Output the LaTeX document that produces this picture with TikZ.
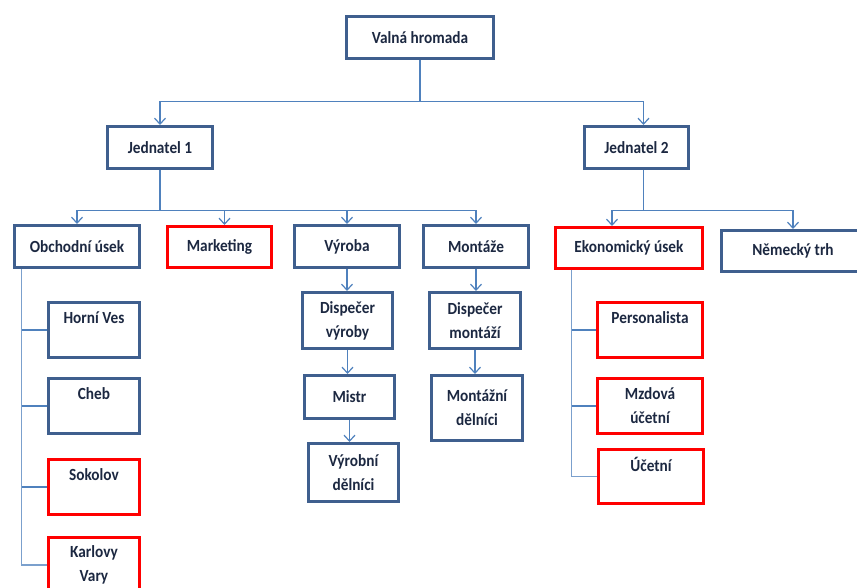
\documentclass[tikz,border=0pt]{standalone}
\usepackage{fontspec}
\setmainfont{Carlito}[FakeStretch=0.9]
\usepackage{xcolor}
\usetikzlibrary{arrows.meta}
\definecolor{boxblue}{HTML}{3F5F8E}
\definecolor{linkblue}{HTML}{4F81BD}
\definecolor{textnavy}{HTML}{1C2841}
\tikzset{every node/.append style={font=\bfseries\fontsize{17}{24}\selectfont, text=textnavy}}
\tikzset{
  box/.style={draw=boxblue, line width=3pt, rectangle, align=center, inner sep=0pt},
  redbox/.style={box, draw=red},
  conn/.style={draw=linkblue, line width=1.2pt}
}

\begin{document}
\begin{tikzpicture}[x=1pt, y=-1pt, >={Straight Barb[length=6pt,width=11pt]}]
    \path[use as bounding box, clip] (0,0) rectangle (857,588);
    \node[box, minimum width=147pt, minimum height=42pt] (vh) at (420,37.5) {Valná hromada};
    \node[box, minimum width=105pt, minimum height=42pt] (j1) at (160,147.5) {Jednatel 1};
    \node[box, minimum width=104pt, minimum height=42pt] (j2) at (636.5,147.5) {Jednatel 2};

    \node[box, minimum width=125pt, minimum height=42pt] (obch) at (77,246.5) {Obchodní úsek};
    \node[redbox, minimum width=104pt, minimum height=41pt] (mkt) at (219.5,247) {Marketing};
    \node[box, minimum width=105pt, minimum height=42pt] (vyr) at (347,246.5) {Výroba};
    \node[box, minimum width=105pt, minimum height=42pt] (mon) at (476,246.5) {Montáže};
    \node[redbox, minimum width=147pt, minimum height=41pt] (eko) at (629,248) {Ekonomický úsek};
    \node[box, minimum width=143pt, minimum height=41pt] (nem) at (793,251) {Německý trh};

    \node[box, minimum width=91pt, minimum height=55pt] (hv) at (94,330) {Horní Ves\\~};
    \node[box, minimum width=91pt, minimum height=55pt] (cheb) at (94,406) {Cheb\\~};
    \node[redbox, minimum width=91pt, minimum height=55pt] (sok) at (94,487) {Sokolov\\~};
    \node[redbox, minimum width=91pt, minimum height=55pt] (kv) at (94,565) {Karlovy\\Vary};

    \node[box, minimum width=90pt, minimum height=56pt] (dv) at (347.5,320.5) {Dispečer\\výroby};
    \node[box, minimum width=90pt, minimum height=43pt] (mistr) at (349.5,397) {Mistr};
    \node[box, minimum width=90pt, minimum height=58pt] (vd) at (353.5,472.5) {Výrobní\\dělníci};

    \node[box, minimum width=91pt, minimum height=56pt] (dm) at (475,320.5) {Dispečer\\montáží};
    \node[box, minimum width=91pt, minimum height=65pt] (md) at (477,408) {Montážní\\dělníci};

    \node[redbox, minimum width=105pt, minimum height=55pt] (pers) at (650,330) {Personalista\\~};
    \node[redbox, minimum width=105pt, minimum height=55pt] (mzd) at (650,406) {Mzdová\\účetní};
    \node[redbox, minimum width=105pt, minimum height=54pt] (uce) at (651,476.5) {Účetní\\~};

    \draw[conn] (vh.south) -- ++(0,41.5) coordinate (bus0);
    \draw[conn,->] (bus0) -| (j1.north);
    \draw[conn,->] (bus0) -| ([xshift=7pt]j2.north);

    \draw[conn] (j1.south) -- ++(0,40.5) coordinate (bus1);
    \draw[conn,->] (bus1) -| (obch.north);
    \draw[conn,->] (bus1) -| ([xshift=5pt]mkt.north);
    \draw[conn,->] (bus1) -| (vyr.north);
    \draw[conn,->] (bus1) -| (mon.north);

    \draw[conn] ([xshift=7pt]j2.south) -- ++(0,40.5) coordinate (bus2);
    \draw[conn,->] (bus2) -| ([xshift=-17pt]eko.north);
    \draw[conn,->] (bus2) -| (nem.north);

    \draw[conn,->] (vyr.south) -- (vyr.south |- dv.north);
    \draw[conn,->] (dv.south) -- (dv.south |- mistr.north);
    \draw[conn,->] (mistr.south) -- (mistr.south |- vd.north);
    \draw[conn,->] (mon.south) -- (mon.south |- dm.north);
    \draw[conn,->] (dm.south) -- (dm.south |- md.north);

    \coordinate (otrunk) at ([xshift=8.5pt]obch.south west);
    \draw[conn, draw=linkblue!75] (otrunk) |- (kv.west);
    \foreach \n in {hv,cheb,sok}
        \draw[conn] (otrunk |- \n.west) -- (\n.west);

    \coordinate (etrunk) at ([xshift=17.5pt]eko.south west);
    \draw[conn, draw=linkblue!75] (etrunk) |- (uce.west);
    \foreach \n in {pers,mzd}
        \draw[conn] (etrunk |- \n.west) -- (\n.west);
\end{tikzpicture}
\end{document}
